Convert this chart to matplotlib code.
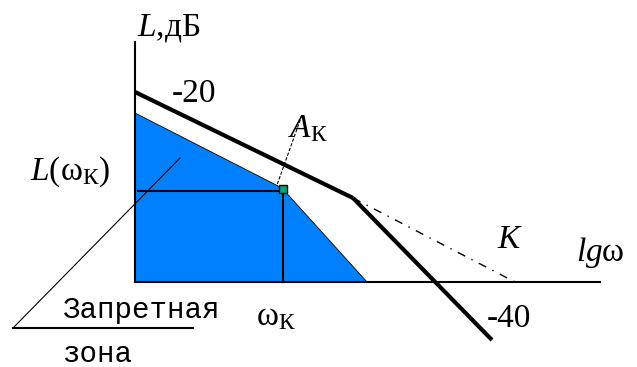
import matplotlib
matplotlib.use("Agg")
import matplotlib.pyplot as plt

plt.rcParams["mathtext.fontset"] = "custom"
plt.rcParams["mathtext.rm"] = "Liberation Serif"
plt.rcParams["mathtext.it"] = "Liberation Serif:italic"

# schematic coordinates (picture units: x right, y down)
AXIS_V = ([135, 135], [42, 282])
AXIS_H = ([135, 600], [282, 282])
LINE_20 = ([135, 353], [92, 198])          # slope -20
LINE_40 = ([353, 492], [198, 340])         # slope -40
LINE_K = ([353, 515], [198, 282])          # dash-dot continuation
ZONE_X = [135, 135, 282, 367]
ZONE_Y = [282, 113, 188, 282]
LK_H = ([138, 283], [191, 191])            # L(wK) level
WK_V = ([283, 283], [191, 282])            # wK position
POINT_A = (283, 189)
LEADER_A = ([302, 277], [115, 185])
LEADER_ZONE = ([14, 180], [327, 158])
UNDER_ZONE = ([13, 193], [328, 328])

fig = plt.figure(figsize=(6.37, 3.67), dpi=100)
ax = fig.add_axes([0, 0, 1, 1])
ax.set_xlim(0, 637)
ax.set_ylim(367, 0)
ax.axis("off")

blue = "#0080ff"
ax.fill(ZONE_X, ZONE_Y, color=blue, lw=0, zorder=1)
ax.plot(ZONE_X[1:], ZONE_Y[1:], color="black", lw=0.6, zorder=2)

ax.plot(*AXIS_V, color="black", lw=1.5, zorder=3)
ax.plot(*AXIS_H, color="black", lw=1.5, zorder=3)
ax.plot(*LINE_20, color="black", lw=3, solid_capstyle="butt", zorder=4)
ax.plot(*LINE_40, color="black", lw=3, solid_capstyle="butt", zorder=4)
ax.plot(*LINE_K, color="black", lw=1, ls=(0, (6, 5, 1, 5)), zorder=3)
ax.plot(*LK_H, color="black", lw=1.5, zorder=3)
ax.plot(*WK_V, color="black", lw=1.5, zorder=3)
ax.plot(*LEADER_A, color="black", lw=0.8, ls=(0, (3, 1.5)), zorder=3)
ax.plot(*LEADER_ZONE, color="black", lw=0.8, zorder=3)
ax.plot(*UNDER_ZONE, color="black", lw=1.5, zorder=3)
ax.plot(*POINT_A, marker="s", ms=6, mfc="#00a878", mec="black", mew=1, zorder=5)

fs = 24
ax.text(137, 28, r"$L$,дБ", fontsize=fs, family="Liberation Serif", va="center", ha="left")
ax.text(172, 94, "-20", fontsize=fs, family="Liberation Serif", va="center", ha="left")
ax.text(288, 128, r"$A_{\mathrm{К}}$", fontsize=fs, va="center", ha="left")
ax.text(30, 172, r"$L(\mathrm{\omega_К})$", fontsize=fs, va="center", ha="left")
ax.text(497, 238, r"$K$", fontsize=fs, va="center", ha="left")
ax.text(576, 253, r"$lg\mathrm{\omega}$", fontsize=fs, va="center", ha="left")
ax.text(487, 319, "-40", fontsize=fs, family="Liberation Serif", va="center", ha="left")
ax.text(256, 316, r"$\mathrm{\omega_К}$", fontsize=fs, va="center", ha="left")
ax.text(62, 310, "Запретная", fontsize=21, family="Liberation Mono", va="center", ha="left")
ax.text(62, 354, "зона", fontsize=21, family="Liberation Mono", va="center", ha="left")

fig.savefig("out.png", dpi=100)
